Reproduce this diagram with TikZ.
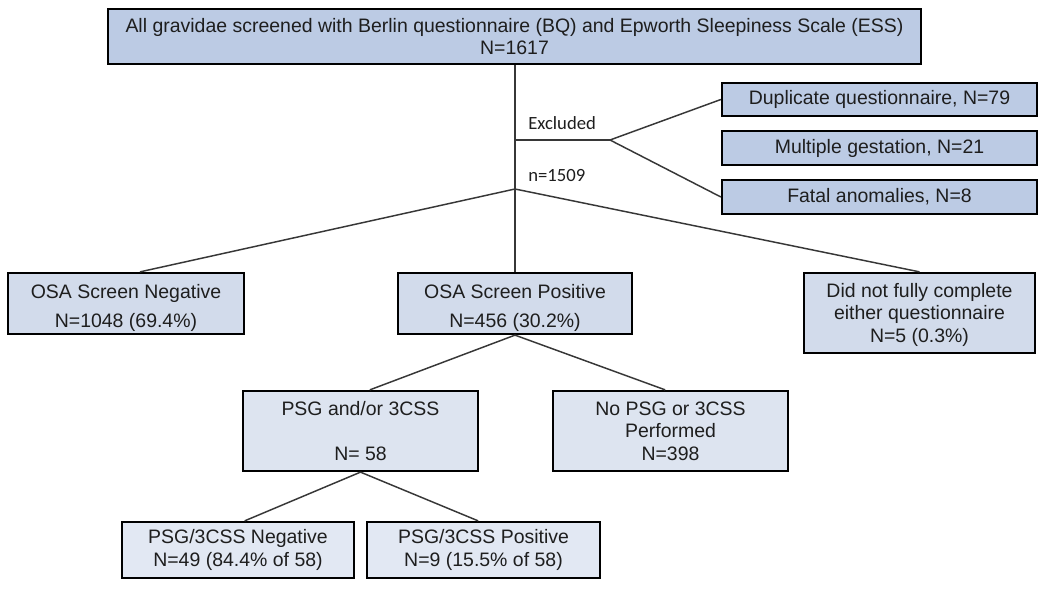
\documentclass[tikz,border=0pt]{standalone}
\usepackage{fontspec}
\setmainfont{Liberation Sans}
\newfontfamily\calib{Carlito}
\definecolor{fillA}{RGB}{188,203,228}
\definecolor{fillB}{RGB}{210,219,235}
\definecolor{fillC}{RGB}{221,228,240}
\definecolor{fillD}{RGB}{226,232,243}
\definecolor{linec}{RGB}{55,55,55}
\definecolor{txt}{RGB}{30,30,30}
\tikzset{
  box/.style={draw=black, line width=1.7pt, inner sep=0pt, align=center, text=txt,
    font=\fontsize{14.6pt}{16.9pt}\selectfont},
  conn/.style={draw=linec, line width=1.1pt},
  lbl/.style={anchor=base west, inner sep=0pt, text=txt, font=\calib\fontsize{14pt}{16pt}\selectfont}
}
\begin{document}
\begin{tikzpicture}[x=0.75pt,y=-0.75pt]
\useasboundingbox (0,0) rectangle (1050,591);
\fill[white] (0,0) rectangle (1050,591);
% boxes
\node[box, fill=fillA, minimum width=609.75pt, minimum height=41.25pt] (top) at (514.5,36.5)
  {All gravidae screened with Berlin questionnaire (BQ) and Epworth Sleepiness Scale (ESS)\\N=1617};
\node[box, fill=fillA, minimum width=236.25pt, minimum height=24.75pt] (dup) at (879.5,99.5) {Duplicate questionnaire, N=79};
\node[box, fill=fillA, minimum width=236.25pt, minimum height=25.5pt] (mul) at (879.5,148) {Multiple gestation, N=21};
\node[box, fill=fillA, minimum width=236.25pt, minimum height=25.5pt] (fat) at (879.5,197) {Fatal anomalies, N=8};
\node[box, fill=fillB, minimum width=177pt, minimum height=45.75pt] (neg) at (126,303.5)
  {\rule{0pt}{17pt}OSA Screen Negative\\[5pt]N=1048 (69.4\%)};
\node[box, fill=fillB, minimum width=175.5pt, minimum height=45.75pt] (pos) at (515,303.5)
  {\rule{0pt}{17pt}OSA Screen Positive\\[5pt]N=456 (30.2\%)};
\node[box, fill=fillB, minimum width=173.25pt, minimum height=60pt] (dnf) at (919.5,313)
  {\rule{0pt}{13pt}Did not fully complete\\either questionnaire\\N=5 (0.3\%)};
\node[box, fill=fillC, minimum width=176.25pt, minimum height=60pt] (psg) at (360.5,431)
  {PSG and/or 3CSS\\[16.9pt]N= 58};
\node[box, fill=fillC, minimum width=176.25pt, minimum height=60pt] (nopsg) at (670.5,431)
  {No PSG or 3CSS\\Performed\\N=398};
\node[box, fill=fillD, minimum width=174pt, minimum height=42pt] (bneg) at (238,550)
  {PSG/3CSS Negative\\N=49 (84.4\% of 58)};
\node[box, fill=fillD, minimum width=174.75pt, minimum height=42pt] (bpos) at (483.5,550)
  {PSG/3CSS Positive\\N=9 (15.5\% of 58)};
% junctions
\coordinate (ex) at (515,140);
\coordinate (exend) at (610,140);
\coordinate (sp) at (515,189);
% labels
\node[lbl] (exl) at (528,130) {Excluded};
\node[lbl] (nl) at (528,182) {n=1509};
% connectors
\draw[conn] (top.south -| pos.north) -- (pos.north);
\draw[conn] (ex) -- (exend);
\draw[conn] (exend) -- (dup.west);
\draw[conn] (exend) -- (fat.west);
\draw[conn] (sp) -- ([xshift=10.5pt]neg.north);
\draw[conn] (sp) -- (dnf.north);
\draw[conn] (pos.south) -- ([xshift=7pt]psg.north);
\draw[conn] (pos.south) -- ([xshift=-4pt]nopsg.north);
\draw[conn] (psg.south) -- ([xshift=5pt]bneg.north);
\draw[conn] (psg.south) -- ([xshift=-4pt]bpos.north);
\end{tikzpicture}
\end{document}
